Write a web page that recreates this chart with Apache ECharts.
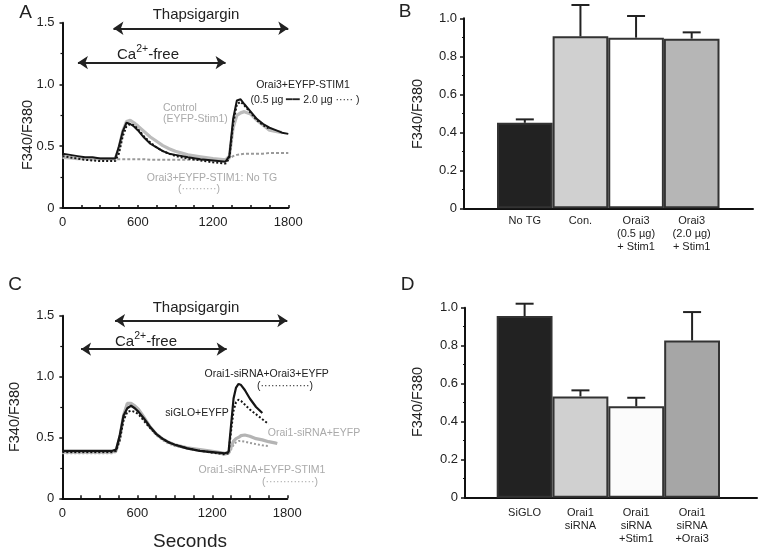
<!DOCTYPE html>
<html><head><meta charset="utf-8">
<script src="https://cdn.jsdelivr.net/npm/echarts@6/dist/echarts.min.js"></script>
<style>html,body{margin:0;padding:0;background:#fff}#c{width:765px;height:558px}</style>
</head><body><div id="c"></div>
<script>
// ---------- Panel A data (seconds, F340/F380) ----------
const tA = [0,60,120,180,240,300,360,420,450,480,510,540,570,600,650,700,750,800,850,900,1000,1100,1200,1300,1330,1360,1390,1420,1450,1500,1550,1600,1650,1700,1750,1800];
const aOrai05 = [0.44,0.43,0.42,0.41,0.41,0.40,0.40,0.40,0.50,0.62,0.69,0.68,0.66,0.63,0.57,0.52,0.49,0.46,0.44,0.43,0.41,0.395,0.385,0.375,0.42,0.72,0.87,0.88,0.84,0.78,0.72,0.68,0.65,0.63,0.61,0.60];
const aOrai20 = [0.42,0.41,0.40,0.39,0.385,0.38,0.38,0.38,0.44,0.58,0.66,0.68,0.67,0.64,0.58,0.53,0.49,0.46,0.44,0.42,0.40,0.385,0.37,0.36,0.40,0.68,0.84,0.86,0.83,0.77,0.71,0.67,0.64,null,null,null];
const aControl = [0.41,0.405,0.40,0.40,0.40,0.40,0.40,0.40,0.48,0.62,0.70,0.71,0.69,0.665,0.62,0.575,0.54,0.505,0.48,0.46,0.43,0.415,0.40,0.39,0.42,0.65,0.75,0.77,0.78,0.76,0.71,0.67,0.63,0.62,0.61,null];
const aNoTG = [0.42,0.41,0.40,0.395,0.395,0.395,0.395,0.395,0.395,0.395,0.395,0.395,0.395,0.395,0.395,0.39,0.39,0.39,0.39,0.39,0.39,0.39,0.39,0.39,0.40,0.42,0.43,0.435,0.44,0.44,0.44,0.44,0.445,0.445,0.445,0.445];

// ---------- Panel C data ----------
const tC = [0,100,200,300,400,430,460,490,520,550,580,610,650,700,750,800,850,900,1000,1100,1200,1300,1330,1350,1370,1390,1410,1430,1460,1500,1550,1600,1650,1700,1720];
const cSiGLO = [0.39,0.39,0.39,0.39,0.39,0.40,0.52,0.68,0.74,0.76,0.74,0.71,0.66,0.59,0.53,0.49,0.46,0.44,0.41,0.39,0.38,0.37,0.38,0.60,0.82,0.91,0.94,0.93,0.89,0.82,0.75,0.70,null,null,null];
const cOrai3 = [0.38,0.38,0.38,0.38,0.38,0.39,0.48,0.64,0.71,0.72,0.71,0.69,0.64,0.58,0.53,0.49,0.46,0.44,0.41,0.39,0.375,0.36,0.37,0.55,0.72,0.79,0.81,0.80,0.77,0.73,0.69,0.65,0.61,null,null];
const cSiEYFP = [0.38,0.38,0.38,0.38,0.38,0.39,0.50,0.68,0.78,0.78,0.76,0.73,0.67,0.59,0.53,0.49,0.46,0.44,0.415,0.40,0.385,0.37,0.37,0.42,0.47,0.49,0.50,0.515,0.52,0.51,0.49,0.48,0.465,0.455,0.45];
const cSiStim = [0.37,0.37,0.37,0.37,0.37,0.38,0.48,0.66,0.75,0.76,0.74,0.71,0.65,0.58,0.52,0.48,0.45,0.43,0.405,0.39,0.375,0.36,0.365,0.40,0.44,0.46,0.47,0.47,0.465,0.455,0.445,0.435,0.43,null,null];

// ---------- Panel B data ----------
const bCats = ['No TG','Con.','Orai3\n(0.5 µg)\n+ Stim1','Orai3\n(2.0 µg)\n+ Stim1'];
const bMeans = [0.45,0.905,0.898,0.893];
const bErr = [0.018,0.165,0.114,0.033];
const bColors = ['#222222','#d0d0d0','#ffffff','#b6b6b6'];

// ---------- Panel D data ----------
const dCats = ['SiGLO','Orai1\nsiRNA','Orai1\nsiRNA\n+Stim1','Orai1\nsiRNA\n+Orai3'];
const dMeans = [0.956,0.533,0.481,0.828];
const dErr = [0.065,0.032,0.045,0.149];
const dColors = ['#222222','#d0d0d0','#fbfbfb','#a6a6a6'];

// ---------- Axis ticks ----------
const traceTicks = {min:0,max:1800,interval:600};
const ratioTicks = {min:0,max:1.5,interval:0.5};
const barTicks = {min:0,max:1.0,interval:0.2};

const FONT = '"Liberation Sans", Arial, sans-serif';
const pair = (t, v) => t.map((x,i)=>[x, v[i]]).filter(p=>p[1]!==null);
const fmt = v => v===0 ? '0' : v.toFixed(1);

function traceX(gi, margin){
  return {type:'value', gridIndex:gi, min:traceTicks.min, max:traceTicks.max, interval:traceTicks.interval,
    axisLine:{show:true, lineStyle:{color:'#111', width:2}},
    axisTick:{show:true, inside:true, length:3, lineStyle:{color:'#111', width:1.5}},
    minorTick:{show:true, splitNumber:4, length:3, lineStyle:{color:'#111', width:1.5}},
    axisLabel:{color:'#222', fontSize:13, fontFamily:FONT, margin:margin, formatter:v=>String(v)},
    splitLine:{show:false}};
}
function traceY(gi){
  return {type:'value', gridIndex:gi, min:ratioTicks.min, max:ratioTicks.max, interval:ratioTicks.interval,
    axisLine:{show:true, lineStyle:{color:'#111', width:2}},
    axisTick:{show:true, inside:false, length:3, lineStyle:{color:'#111', width:1.5}},
    minorTick:{show:true, splitNumber:2, length:2, lineStyle:{color:'#111', width:1.2}},
    axisLabel:{color:'#222', fontSize:13, fontFamily:FONT, margin:8, formatter:fmt},
    splitLine:{show:false}};
}
function frameX(gi){
  return {type:'value', gridIndex:gi, min:0, max:1,
    axisLine:{show:true, onZero:false, lineStyle:{color:'#111', width:2}},
    axisTick:{show:false}, axisLabel:{show:false}, splitLine:{show:false}};
}
function frameY(gi){
  return {type:'value', gridIndex:gi, min:barTicks.min, max:barTicks.max, interval:barTicks.interval,
    axisLine:{show:true, lineStyle:{color:'#111', width:2}},
    axisTick:{show:true, inside:false, length:4, lineStyle:{color:'#111', width:1.5}},
    minorTick:{show:true, splitNumber:2, length:2, lineStyle:{color:'#111', width:1.2}},
    axisLabel:{color:'#222', fontSize:13, fontFamily:FONT, margin:7, formatter:fmt},
    splitLine:{show:false}};
}
function barX(gi, cats, margin){
  return {type:'category', gridIndex:gi, data:cats,
    axisLine:{show:false}, axisTick:{show:false},
    axisLabel:{color:'#222', fontSize:11, fontFamily:FONT, margin:margin, lineHeight:13, interval:0},
    splitLine:{show:false}};
}
function hiddenY(gi){
  return {type:'value', gridIndex:gi, min:barTicks.min, max:barTicks.max, show:false, splitLine:{show:false}};
}

function lineSeries(name, xi, t, v, color, width, type, z){
  return {name, type:'line', xAxisIndex:xi, yAxisIndex:xi, data:pair(t,v), showSymbol:false, symbol:'none',
    lineStyle:{color, width, type}, z:z||2, silent:true, animation:false};
}
function arrows(lines){
  return {silent:true, symbol:['arrow','arrow'], symbolSize:[10,10], animation:false,
    lineStyle:{color:'#222', width:2, type:'solid'}, label:{show:false}, emphasis:{disabled:true},
    data: lines.map(l=>[{coord:[l[0], l[2]]},{coord:[l[1], l[2]]}])};
}
function barSeries(xi, means, colors){
  return {type:'bar', xAxisIndex:xi, yAxisIndex:xi, barWidth:'100%', barCategoryGap:'0%',
    data: means.map((m,i)=>({value:m, itemStyle:{color:colors[i]}})),
    itemStyle:{borderColor:'#333', borderWidth:2}, silent:true, animation:false, z:2};
}
function errSeries(xi, means, errs){
  return {type:'custom', xAxisIndex:xi, yAxisIndex:xi, silent:true, animation:false, z:3, clip:false,
    data: means.map((m,i)=>[i, m, m+errs[i]]),
    renderItem: (params, api) => {
      const p0 = api.coord([api.value(0), api.value(1)]);
      const p1 = api.coord([api.value(0), api.value(2)]);
      const hw = 9;
      return {type:'group', children:[
        {type:'line', shape:{x1:p0[0], y1:p0[1], x2:p1[0], y2:p1[1]}, style:{stroke:'#222', lineWidth:2}},
        {type:'line', shape:{x1:p1[0]-hw, y1:p1[1], x2:p1[0]+hw, y2:p1[1]}, style:{stroke:'#222', lineWidth:2}}
      ]};
    }};
}

function txt(text, x, y, size, color, align){
  return {type:'text', silent:true, style:{text, x, y, fontSize:size, fontFamily:FONT, fill:color||'#222',
    align:align||'center', verticalAlign:'middle'}};
}
function vtxt(text, x, y){
  return {type:'text', silent:true, x, y, rotation:Math.PI/2,
    style:{text, x:0, y:0, fontSize:14.5, fontFamily:FONT, fill:'#222', align:'center', verticalAlign:'middle'}};
}
function caTxt(x, y){
  return {type:'text', silent:true, style:{text:'{n|Ca}{s|2+}{n|-free}', x, y, align:'center', verticalAlign:'middle',
    rich:{n:{fontSize:15, fontFamily:FONT, fill:'#222', lineHeight:18, verticalAlign:'bottom'},
          s:{fontSize:10.5, fontFamily:FONT, fill:'#222', lineHeight:18, verticalAlign:'top'}}}};
}

const chart = echarts.init(document.getElementById('c'), null, {renderer:'canvas'});
chart.setOption({
  animation:false,
  backgroundColor:'#fff',
  grid:[
    {left:62.5, top:22.7, width:225.8, height:185.3},
    {left:62.3, top:315.7, width:225, height:182.6},
    {left:464, top:18.3, width:289, height:190},
    {left:497, top:18.3, width:222.5, height:190},
    {left:465, top:307.7, width:292, height:190},
    {left:496.7, top:307.7, width:223.3, height:190}
  ],
  xAxis:[traceX(0,8), traceX(1,9), frameX(2), barX(3,bCats,6), frameX(4), barX(5,dCats,9)],
  yAxis:[traceY(0), traceY(1), frameY(2), hiddenY(3), frameY(4), hiddenY(5)],
  series:[
    // Panel A
    Object.assign(lineSeries('No TG',0,tA,aNoTG,'#9a9a9a',2,[3,2],1), {markLine: arrows([[406,1800,1.455],[123,1300,1.177]])}),
    lineSeries('Control',0,tA,aControl,'#bcbcbc',3.2,'solid',2),
    lineSeries('Orai3 0.5',0,tA,aOrai05,'#151515',2,'solid',3),
    lineSeries('Orai3 2.0',0,tA,aOrai20,'#151515',2,[2,2],4),
    // Panel C
    Object.assign(lineSeries('si+STIM1',1,tC,cSiStim,'#9a9a9a',2,[2,2],1), {markLine: arrows([[422,1800,1.46],[150,1315,1.225]])}),
    lineSeries('si+EYFP',1,tC,cSiEYFP,'#b4b4b4',3.2,'solid',2),
    lineSeries('siGLO',1,tC,cSiGLO,'#151515',2.2,'solid',3),
    lineSeries('si+Orai3',1,tC,cOrai3,'#151515',2,[2,2],4),
    // Panel B
    barSeries(3,bMeans,bColors), errSeries(3,bMeans,bErr),
    // Panel D
    barSeries(5,dMeans,dColors), errSeries(5,dMeans,dErr)
  ],
  graphic:[
    txt('A',25.5,13,19), txt('B',405,12,19), txt('C',15,284.5,19), txt('D',407.5,285,19),
    vtxt('F340/F380',27.5,135), vtxt('F340/F380',15,417), vtxt('F340/F380',418,114), vtxt('F340/F380',418,402),
    txt('Thapsigargin',196,15,15), caTxt(148,53),
    txt('Orai3+EYFP-STIM1',303,85,10.5),
    txt('(0.5 µg ━━ 2.0 µg ····· )',305,100.5,10.5),
    txt('Control',163,108.3,10.5,'#aaaaaa','left'),
    txt('(EYFP-Stim1)',163,119,10.5,'#aaaaaa','left'),
    txt('Orai3+EYFP-STIM1: No TG',212,178.3,10.5,'#aaaaaa'),
    txt('(··········)',199,189.3,10.5,'#aaaaaa'),
    txt('Thapsigargin',196,308.3,15), caTxt(146,340),
    txt('Orai1-siRNA+Orai3+EYFP',266.7,374,10.5),
    txt('(··············)',285,386,10.5),
    txt('siGLO+EYFP',197,413.3,10.5),
    txt('Orai1-siRNA+EYFP',314,433.3,10.5,'#aaaaaa'),
    txt('Orai1-siRNA+EYFP-STIM1',262,470,10.5,'#aaaaaa'),
    txt('(··············)',290,481.7,10.5,'#aaaaaa'),
    txt('Seconds',190,541.7,19)
  ]
});
</script></body></html>
